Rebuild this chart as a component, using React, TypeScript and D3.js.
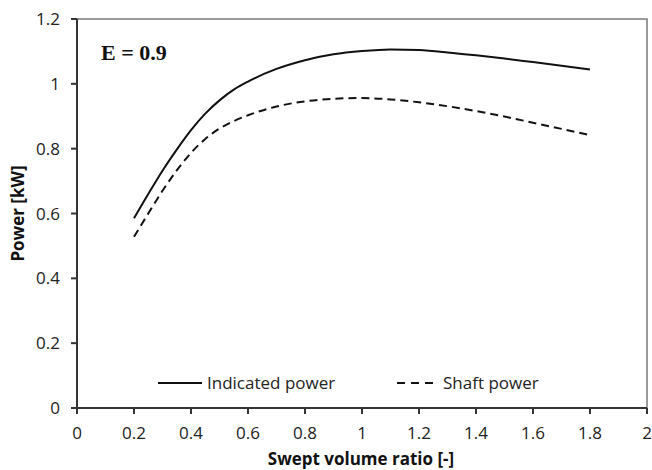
import React from "react";
import * as d3 from "d3";

const xValues = [0.2, 0.25, 0.3, 0.35, 0.4, 0.45, 0.5, 0.55, 0.6, 0.7, 0.8, 0.9, 1.0, 1.1, 1.2, 1.3, 1.4, 1.5, 1.6, 1.7, 1.8];
const indicatedPower = [0.585, 0.66, 0.732, 0.797, 0.857, 0.908, 0.949, 0.982, 1.007, 1.046, 1.073, 1.091, 1.101, 1.106, 1.104, 1.097, 1.088, 1.078, 1.067, 1.056, 1.044];
const shaftPower = [0.528, 0.6, 0.67, 0.733, 0.787, 0.83, 0.862, 0.885, 0.903, 0.93, 0.946, 0.954, 0.956, 0.952, 0.943, 0.931, 0.916, 0.899, 0.88, 0.861, 0.842];
const xTicks = [0, 0.2, 0.4, 0.6, 0.8, 1, 1.2, 1.4, 1.6, 1.8, 2];
const yTicks = [0, 0.2, 0.4, 0.6, 0.8, 1, 1.2];
const seriesNames = ["Indicated power", "Shaft power"];

const W = 652, H = 470;
const L = 77, R = 647, T = 19, B = 408;
const tickFont = "Open Sans, sans-serif";

export default function App() {
  const x = d3.scaleLinear().domain([0, 2]).range([L, R]);
  const y = d3.scaleLinear().domain([0, 1.2]).range([B, T]);
  const line = d3.line<number>().x((_, i) => x(xValues[i])).y((d) => y(d)).curve(d3.curveMonotoneX);
  const fmt = (v: number) => String(v);

  return (
    <div style={{ position: "absolute", left: 0, top: 0 }}>
      <svg width={W} height={H} style={{ display: "block", background: "#fff" }}>
        <rect x={L} y={T} width={R - L} height={B - T} fill="none" stroke="#7a7a7a" strokeWidth={1.5} />
        <path d={line(indicatedPower) || ""} fill="none" stroke="#111" strokeWidth={2} />
        <path d={line(shaftPower) || ""} fill="none" stroke="#111" strokeWidth={2} strokeDasharray="8,5" />
        <line x1={L} x2={L} y1={T} y2={B} stroke="#333" strokeWidth={2} />
        <line x1={L} x2={R} y1={B} y2={B} stroke="#333" strokeWidth={2} />
        {yTicks.map((t) => (
          <g key={"y" + t}>
            <line x1={L - 6} x2={L} y1={y(t)} y2={y(t)} stroke="#333" strokeWidth={2} />
            <text x={L - 17} y={y(t)} dy="0.36em" textAnchor="end" fontFamily={tickFont} fontSize={17} fill="#222">{fmt(t)}</text>
          </g>
        ))}
        {xTicks.map((t) => (
          <g key={"x" + t}>
            <line x1={x(t)} x2={x(t)} y1={B} y2={B + 6} stroke="#333" strokeWidth={2} />
            <text x={x(t)} y={B + 31} textAnchor="middle" fontFamily={tickFont} fontSize={17} fill="#222">{fmt(t)}</text>
          </g>
        ))}
        <text x={361} y={465} textAnchor="middle" fontFamily={tickFont} fontWeight="bold" fontSize={17} fill="#111">Swept volume ratio [-]</text>
        <text transform={`translate(24,${(T + B) / 2}) rotate(-90)`} textAnchor="middle" fontFamily={tickFont} fontWeight="bold" fontSize={17} fill="#111">Power [kW]</text>
        <text x={101} y={60} fontFamily="Liberation Serif, serif" fontWeight="bold" fontSize={22} fill="#111">E = 0.9</text>
        <line x1={158} x2={202} y1={383} y2={383} stroke="#111" strokeWidth={2} />
        <text x={207} y={383} dy="0.36em" fontFamily={tickFont} fontSize={17} fill="#222">{seriesNames[0]}</text>
        <line x1={397} x2={434} y1={383} y2={383} stroke="#111" strokeWidth={2} strokeDasharray="8,6" />
        <text x={443} y={383} dy="0.36em" fontFamily={tickFont} fontSize={17} fill="#222">{seriesNames[1]}</text>
      </svg>
    </div>
  );
}
